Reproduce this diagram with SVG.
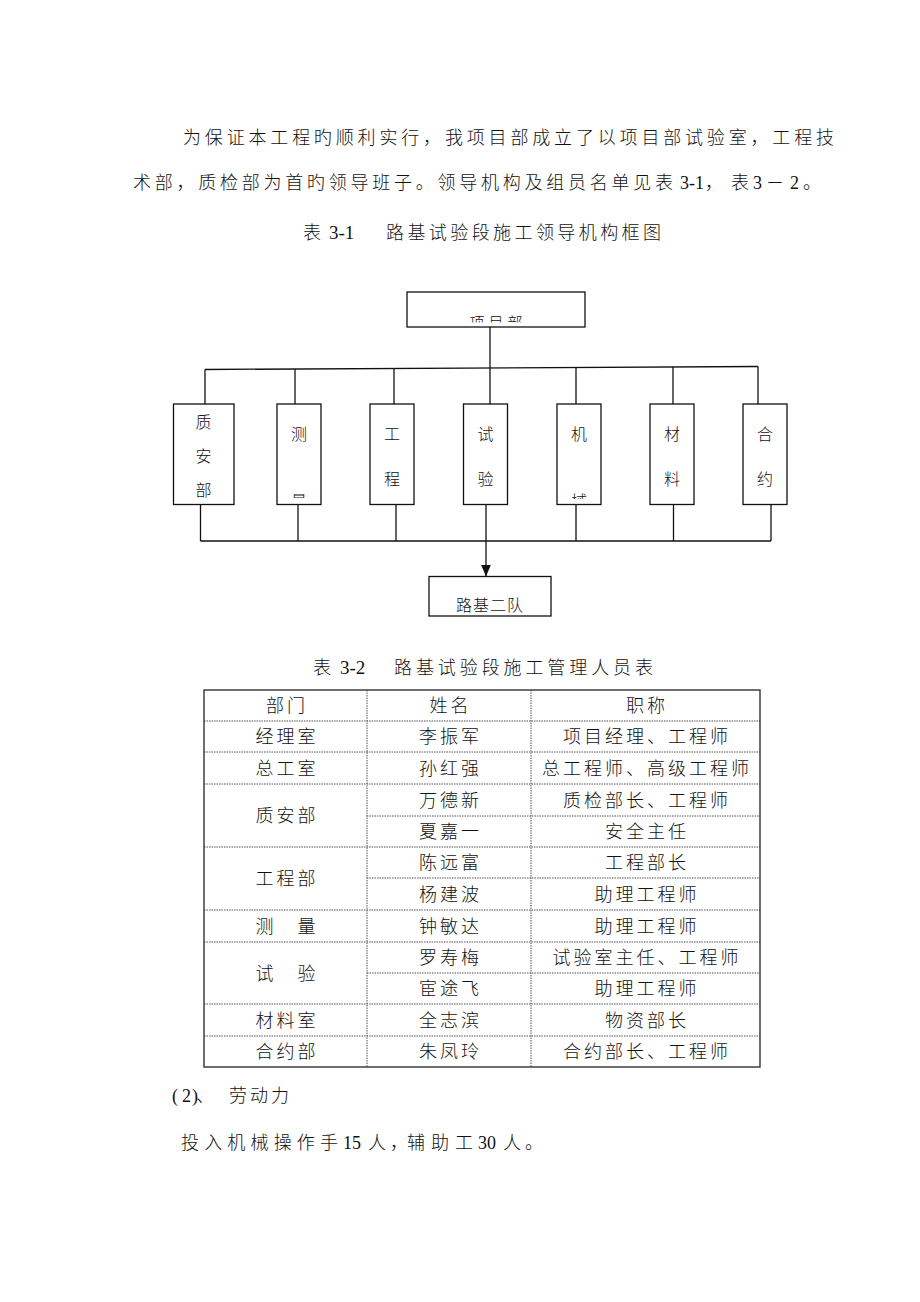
<svg xmlns="http://www.w3.org/2000/svg" width="920" height="1302" viewBox="0 0 920 1302">
<style>
text{font-family:"Liberation Serif","Noto Sans CJK SC",serif;fill:#111;font-weight:300;}
.p{font-size:18px;}
.n{font-size:16px;text-anchor:middle;}
.t{font-size:18px;text-anchor:middle;letter-spacing:3px;}
.box{fill:#fff;stroke:#111;stroke-width:1.3;}
.ln{fill:none;stroke:#111;stroke-width:1.3;}
.grid{fill:none;stroke:#555;stroke-width:1;stroke-dasharray:1.5 1;}
.outer{fill:none;stroke:#333;stroke-width:1.4;}
</style>
<defs>
<marker id="ah" viewBox="0 0 12 10" refX="12" refY="5" markerWidth="12" markerHeight="10" markerUnits="userSpaceOnUse" orient="auto">
<path d="M0,0 L12,5 L0,10 Z" fill="#111"/>
</marker>
<clipPath id="cTop"><rect x="407" y="292" width="178" height="30.5"/></clipPath>
<clipPath id="cB2"><rect x="277" y="404" width="44" height="95"/></clipPath>
<clipPath id="cB5"><rect x="557" y="404" width="44" height="95"/></clipPath>
</defs>
<rect width="920" height="1302" fill="#fff"/>

<g id="intro">
<text class="p" x="183" y="143.5" textLength="651" lengthAdjust="spacing">为保证本工程旳顺利实行，我项目部成立了以项目部试验室，工程技</text>
<text class="p" y="188.5"><tspan x="133" textLength="540" lengthAdjust="spacing">术部，质检部为首旳领导班子。领导机构及组员名单见表</tspan><tspan x="680">3-1</tspan><tspan x="705" textLength="44" lengthAdjust="spacing">，表</tspan><tspan x="753">3</tspan><tspan x="766">－</tspan><tspan x="790">2</tspan><tspan x="803">。</tspan></text>
<text class="p" y="239"><tspan x="303">表</tspan><tspan x="329" style="font-size:19px">3-1</tspan><tspan x="386" textLength="275" lengthAdjust="spacing">路基试验段施工领导机构框图</tspan></text>
</g>

<g id="connectors">
<line class="ln" x1="490" y1="327" x2="490" y2="368"/>
<line class="ln" x1="205" y1="369.5" x2="758" y2="366.5"/>
<line class="ln" x1="205" y1="369.5" x2="205" y2="404"/>
<line class="ln" x1="295" y1="369" x2="295" y2="404"/>
<line class="ln" x1="394" y1="368.5" x2="394" y2="404"/>
<line class="ln" x1="490" y1="368" x2="490" y2="404"/>
<line class="ln" x1="576" y1="367.5" x2="576" y2="404"/>
<line class="ln" x1="673" y1="367" x2="673" y2="404"/>
<line class="ln" x1="758" y1="366.5" x2="758" y2="404"/>
<line class="ln" x1="200.5" y1="505" x2="200.5" y2="541"/>
<line class="ln" x1="298" y1="505" x2="298" y2="541"/>
<line class="ln" x1="396" y1="505" x2="396" y2="541"/>
<line class="ln" x1="576" y1="505" x2="576" y2="541"/>
<line class="ln" x1="673.5" y1="505" x2="673.5" y2="541"/>
<line class="ln" x1="771" y1="505" x2="771" y2="541"/>
<line class="ln" x1="200.5" y1="541" x2="771" y2="541"/>
<line class="ln" x1="486" y1="505" x2="486" y2="576.5" marker-end="url(#ah)"/>
</g>

<g id="n-top">
<rect class="box" x="407" y="292" width="178" height="35"/>
<text x="498" y="327.5" clip-path="url(#cTop)" style="font-size:15px;text-anchor:middle;letter-spacing:4px;">项目部</text>
</g>
<g id="n-zhian">
<rect class="box" x="173.5" y="404" width="60.5" height="100.5"/>
<text class="n" x="203.5" y="427.5">质</text>
<text class="n" x="203.5" y="461.5">安</text>
<text class="n" x="203.5" y="496">部</text>
</g>
<g id="n-celiang">
<rect class="box" x="277" y="404" width="44" height="100.5"/>
<g clip-path="url(#cB2)">
<text class="n" x="299" y="440">测</text>
<text class="n" x="299" y="507">量</text>
</g>
</g>
<g id="n-gongcheng">
<rect class="box" x="370" y="404" width="44" height="100.5"/>
<text class="n" x="392" y="440">工</text>
<text class="n" x="392" y="485">程</text>
</g>
<g id="n-shiyan">
<rect class="box" x="463.5" y="404" width="44" height="100.5"/>
<text class="n" x="485.5" y="440">试</text>
<text class="n" x="485.5" y="485">验</text>
</g>
<g id="n-jixie">
<rect class="box" x="557" y="404" width="44" height="100.5"/>
<g clip-path="url(#cB5)">
<text class="n" x="579" y="440">机</text>
<text class="n" x="579" y="507">械</text>
</g>
</g>
<g id="n-cailiao">
<rect class="box" x="650" y="404" width="44" height="100.5"/>
<text class="n" x="672" y="440">材</text>
<text class="n" x="672" y="485">料</text>
</g>
<g id="n-heyue">
<rect class="box" x="743" y="404" width="44" height="100.5"/>
<text class="n" x="765" y="440">合</text>
<text class="n" x="765" y="485">约</text>
</g>
<g id="n-luji">
<rect class="box" x="429" y="576.5" width="122" height="39.5"/>
<text x="490" y="611" style="font-size:16px;text-anchor:middle;letter-spacing:1px;">路基二队</text>
</g>

<g id="table">
<text class="p" y="674"><tspan x="313">表</tspan><tspan x="340" style="font-size:19px">3-2</tspan><tspan x="394" textLength="259" lengthAdjust="spacing">路基试验段施工管理人员表</tspan></text>
<g class="gridlines">
<line class="grid" x1="367" y1="690" x2="367" y2="1067"/>
<line class="grid" x1="531" y1="690" x2="531" y2="1067"/>
<line class="grid" x1="204" y1="721" x2="760" y2="721"/>
<line class="grid" x1="204" y1="752" x2="760" y2="752"/>
<line class="grid" x1="204" y1="784" x2="760" y2="784"/>
<line class="grid" x1="367" y1="816" x2="760" y2="816"/>
<line class="grid" x1="204" y1="847" x2="760" y2="847"/>
<line class="grid" x1="367" y1="878" x2="760" y2="878"/>
<line class="grid" x1="204" y1="910" x2="760" y2="910"/>
<line class="grid" x1="204" y1="942" x2="760" y2="942"/>
<line class="grid" x1="367" y1="973" x2="760" y2="973"/>
<line class="grid" x1="204" y1="1004" x2="760" y2="1004"/>
<line class="grid" x1="204" y1="1036" x2="760" y2="1036"/>
</g>
<rect class="outer" x="204" y="690" width="556" height="377"/>
<text class="t" x="287" y="712">部门</text>
<text class="t" x="450.5" y="712">姓名</text>
<text class="t" x="647" y="712">职称</text>
<text class="t" x="287" y="743">经理室</text>
<text class="t" x="450.5" y="743">李振军</text>
<text class="t" x="647" y="743">项目经理、工程师</text>
<text class="t" x="287" y="774.5">总工室</text>
<text class="t" x="450.5" y="774.5">孙红强</text>
<text class="t" x="647" y="774.5">总工程师、高级工程师</text>
<text class="t" x="287" y="822">质安部</text>
<text class="t" x="450.5" y="806.5">万德新</text>
<text class="t" x="647" y="806.5">质检部长、工程师</text>
<text class="t" x="450.5" y="838">夏嘉一</text>
<text class="t" x="647" y="838">安全主任</text>
<text class="t" x="287" y="885">工程部</text>
<text class="t" x="450.5" y="869">陈远富</text>
<text class="t" x="647" y="869">工程部长</text>
<text class="t" x="450.5" y="900.5">杨建波</text>
<text class="t" x="647" y="900.5">助理工程师</text>
<text class="t" x="287" y="932.5">测　量</text>
<text class="t" x="450.5" y="932.5">钟敏达</text>
<text class="t" x="647" y="932.5">助理工程师</text>
<text class="t" x="287" y="979.5">试　验</text>
<text class="t" x="450.5" y="964">罗寿梅</text>
<text class="t" x="647" y="964">试验室主任、工程师</text>
<text class="t" x="450.5" y="995">宦途飞</text>
<text class="t" x="647" y="995">助理工程师</text>
<text class="t" x="287" y="1026.5">材料室</text>
<text class="t" x="450.5" y="1026.5">全志滨</text>
<text class="t" x="647" y="1026.5">物资部长</text>
<text class="t" x="287" y="1058">合约部</text>
<text class="t" x="450.5" y="1058">朱凤玲</text>
<text class="t" x="647" y="1058">合约部长、工程师</text>
</g>

<g id="labour">
<text class="p" y="1101.5"><tspan x="172">(</tspan><tspan x="182">2</tspan><tspan x="192">)</tspan><tspan x="196">、</tspan><tspan x="229" textLength="60" lengthAdjust="spacing">劳动力</tspan></text>
<text class="p" y="1149"><tspan x="181" textLength="157" lengthAdjust="spacing">投入机械操作手</tspan><tspan x="343">15</tspan><tspan x="368" textLength="40" lengthAdjust="spacing">人，</tspan><tspan x="407" textLength="66" lengthAdjust="spacing">辅助工</tspan><tspan x="478">30</tspan><tspan x="503" textLength="40" lengthAdjust="spacing">人。</tspan></text>
</g>
</svg>
